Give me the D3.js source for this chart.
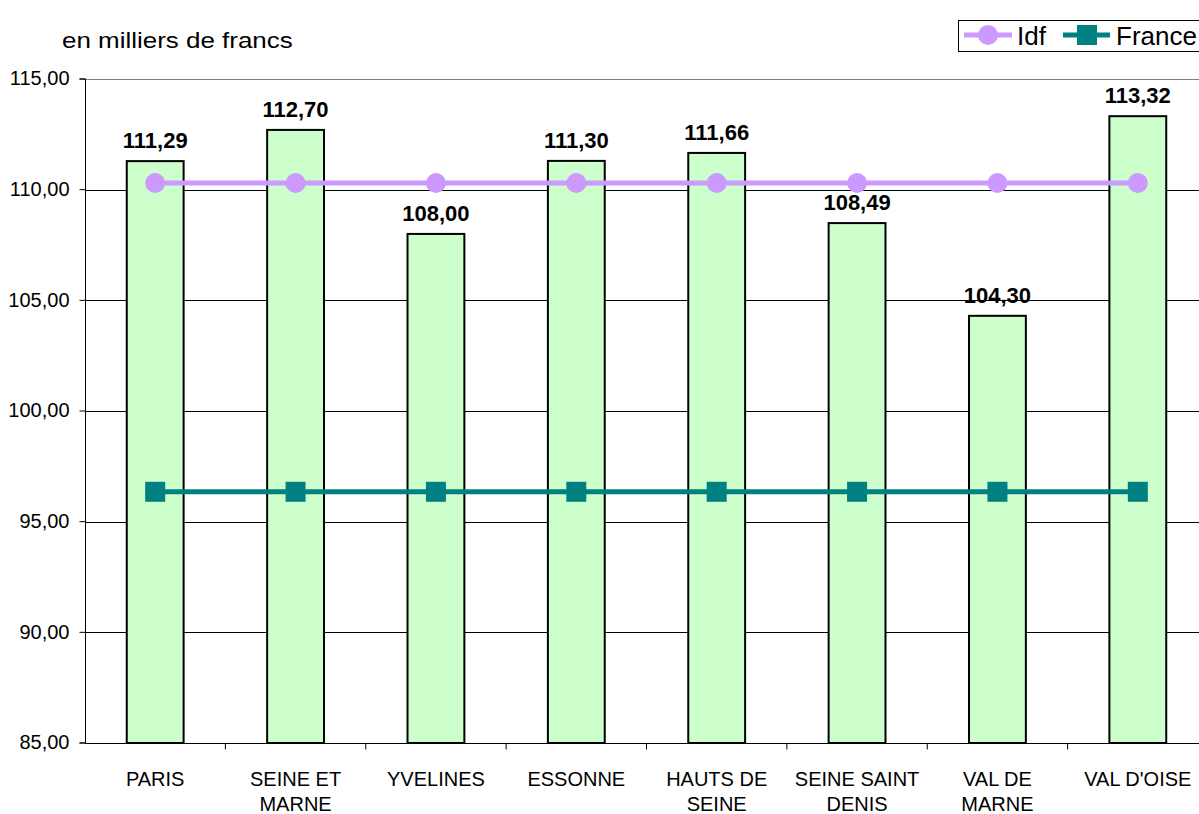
<!DOCTYPE html>
<html>
<head>
<meta charset="utf-8">
<script src="https://cdn.jsdelivr.net/npm/d3@7"></script>
<style>
  body { margin: 0; background: #fff; }
  svg { display: block; font-family: Arial, "Liberation Sans", sans-serif; }
</style>
</head>
<body>
<div id="chart"></div>
<script>
const categories = [["PARIS"], ["SEINE ET", "MARNE"], ["YVELINES"], ["ESSONNE"], ["HAUTS DE", "SEINE"], ["SEINE SAINT", "DENIS"], ["VAL DE", "MARNE"], ["VAL D'OISE"]];
const departementValues = [111.29, 112.70, 108.00, 111.30, 111.66, 108.49, 104.30, 113.32];
const idfValues = [110.30, 110.30, 110.30, 110.30, 110.30, 110.30, 110.30, 110.30];
const franceValues = [96.35, 96.35, 96.35, 96.35, 96.35, 96.35, 96.35, 96.35];
const yTicks = [85, 90, 95, 100, 105, 110, 115];

const width = 1199, height = 814;
const plotLeft = 85, plotRight = 1208, plotTop = 79, plotBottom = 743;

const fmt = v => d3.format(".2f")(v).replace(".", ",");

const svg = d3.select("#chart").append("svg")
  .attr("width", width)
  .attr("height", height);

const x = d3.scaleBand()
  .domain(d3.range(categories.length))
  .range([plotLeft, plotRight])
  .paddingInner(0.595)
  .paddingOuter(0.2975);

const xStep = d3.scaleLinear().domain([0, categories.length]).range([plotLeft, plotRight]);

const y = d3.scaleLinear().domain([85, 115]).range([plotBottom, plotTop]);

// gridlines
svg.append("g")
  .selectAll("line")
  .data(yTicks.slice(1))
  .join("line")
  .attr("x1", plotLeft)
  .attr("x2", plotRight)
  .attr("y1", d => Math.round(y(d)) + 0.5)
  .attr("y2", d => Math.round(y(d)) + 0.5)
  .attr("stroke", d => d === 115 ? "#808080" : "#000")
  .attr("stroke-width", 1);

// bars
svg.append("g")
  .selectAll("rect")
  .data(departementValues)
  .join("rect")
  .attr("x", (d, i) => x(i))
  .attr("y", d => y(d))
  .attr("width", x.bandwidth())
  .attr("height", d => y(85) - y(d))
  .attr("fill", "#CCFFCC")
  .attr("stroke", "#000")
  .attr("stroke-width", 2);

// y axis
const yAxis = svg.append("g")
  .attr("transform", `translate(${plotLeft + 0.5},0)`)
  .call(d3.axisLeft(y).tickValues(yTicks).tickFormat(fmt).tickSize(6).tickPadding(10).offset(0));
yAxis.selectAll("text").attr("font-size", 20).attr("fill", "#000").attr("font-family", "Arial, 'Liberation Sans', sans-serif");
yAxis.selectAll("line").attr("stroke", "#000");
yAxis.select(".domain").attr("stroke", "#000");

// x axis
const xAxisG = svg.append("g").attr("transform", `translate(0,${Math.round(plotBottom) + 0.5})`);
xAxisG.append("line").attr("x1", plotLeft).attr("x2", plotRight).attr("stroke", "#000");
xAxisG.selectAll("line.tick")
  .data(d3.range(1, categories.length))
  .join("line")
  .attr("class", "tick")
  .attr("x1", d => xStep(d)).attr("x2", d => xStep(d))
  .attr("y1", 0).attr("y2", 6)
  .attr("stroke", "#000");

const labels = xAxisG.selectAll("text")
  .data(categories)
  .join("text")
  .attr("text-anchor", "middle")
  .attr("font-size", 20)
  .attr("fill", "#000");
labels.selectAll("tspan")
  .data((d, i) => d.map(t => ({ t, i })))
  .join("tspan")
  .attr("x", d => x(d.i) + x.bandwidth() / 2)
  .attr("y", (d, j) => 42 + j * 25)
  .text(d => d.t);

// value labels
svg.append("g")
  .selectAll("text")
  .data(departementValues)
  .join("text")
  .attr("x", (d, i) => x(i) + x.bandwidth() / 2)
  .attr("y", d => y(d) - 13)
  .attr("text-anchor", "middle")
  .attr("font-size", 22)
  .attr("font-weight", "bold")
  .attr("fill", "#000")
  .text(fmt);

// lines
const cx = i => x(i) + x.bandwidth() / 2;
const line = d3.line().x((d, i) => cx(i)).y(d => y(d));

svg.append("path")
  .datum(idfValues)
  .attr("fill", "none")
  .attr("stroke", "#CC99FF")
  .attr("stroke-width", 5)
  .attr("d", line);
svg.append("g")
  .selectAll("circle")
  .data(idfValues)
  .join("circle")
  .attr("cx", (d, i) => cx(i))
  .attr("cy", d => y(d))
  .attr("r", 10)
  .attr("fill", "#CC99FF");

svg.append("path")
  .datum(franceValues)
  .attr("fill", "none")
  .attr("stroke", "#008080")
  .attr("stroke-width", 5)
  .attr("d", line);
svg.append("g")
  .selectAll("rect")
  .data(franceValues)
  .join("rect")
  .attr("x", (d, i) => cx(i) - 10)
  .attr("y", d => y(d) - 10)
  .attr("width", 20)
  .attr("height", 20)
  .attr("fill", "#008080");

// title (wide-set in the original)
svg.append("text")
  .attr("transform", "translate(62,48) scale(1.18,1)")
  .attr("font-size", 22)
  .attr("fill", "#000")
  .text("en milliers de francs");

// legend
const legend = svg.append("g");
legend.append("rect")
  .attr("x", 958.5).attr("y", 20.5)
  .attr("width", 260).attr("height", 31)
  .attr("fill", "#fff").attr("stroke", "#000");
legend.append("line")
  .attr("x1", 964).attr("x2", 1012).attr("y1", 35).attr("y2", 35)
  .attr("stroke", "#CC99FF").attr("stroke-width", 5);
legend.append("circle")
  .attr("cx", 988).attr("cy", 35).attr("r", 10).attr("fill", "#CC99FF");
legend.append("text")
  .attr("x", 1017).attr("y", 45).attr("font-size", 26).text("Idf");
legend.append("line")
  .attr("x1", 1063).attr("x2", 1110).attr("y1", 35).attr("y2", 35)
  .attr("stroke", "#008080").attr("stroke-width", 5);
legend.append("rect")
  .attr("x", 1077).attr("y", 25).attr("width", 20).attr("height", 20).attr("fill", "#008080");
legend.append("text")
  .attr("x", 1116).attr("y", 45).attr("font-size", 26).text("France");
</script>
</body>
</html>
